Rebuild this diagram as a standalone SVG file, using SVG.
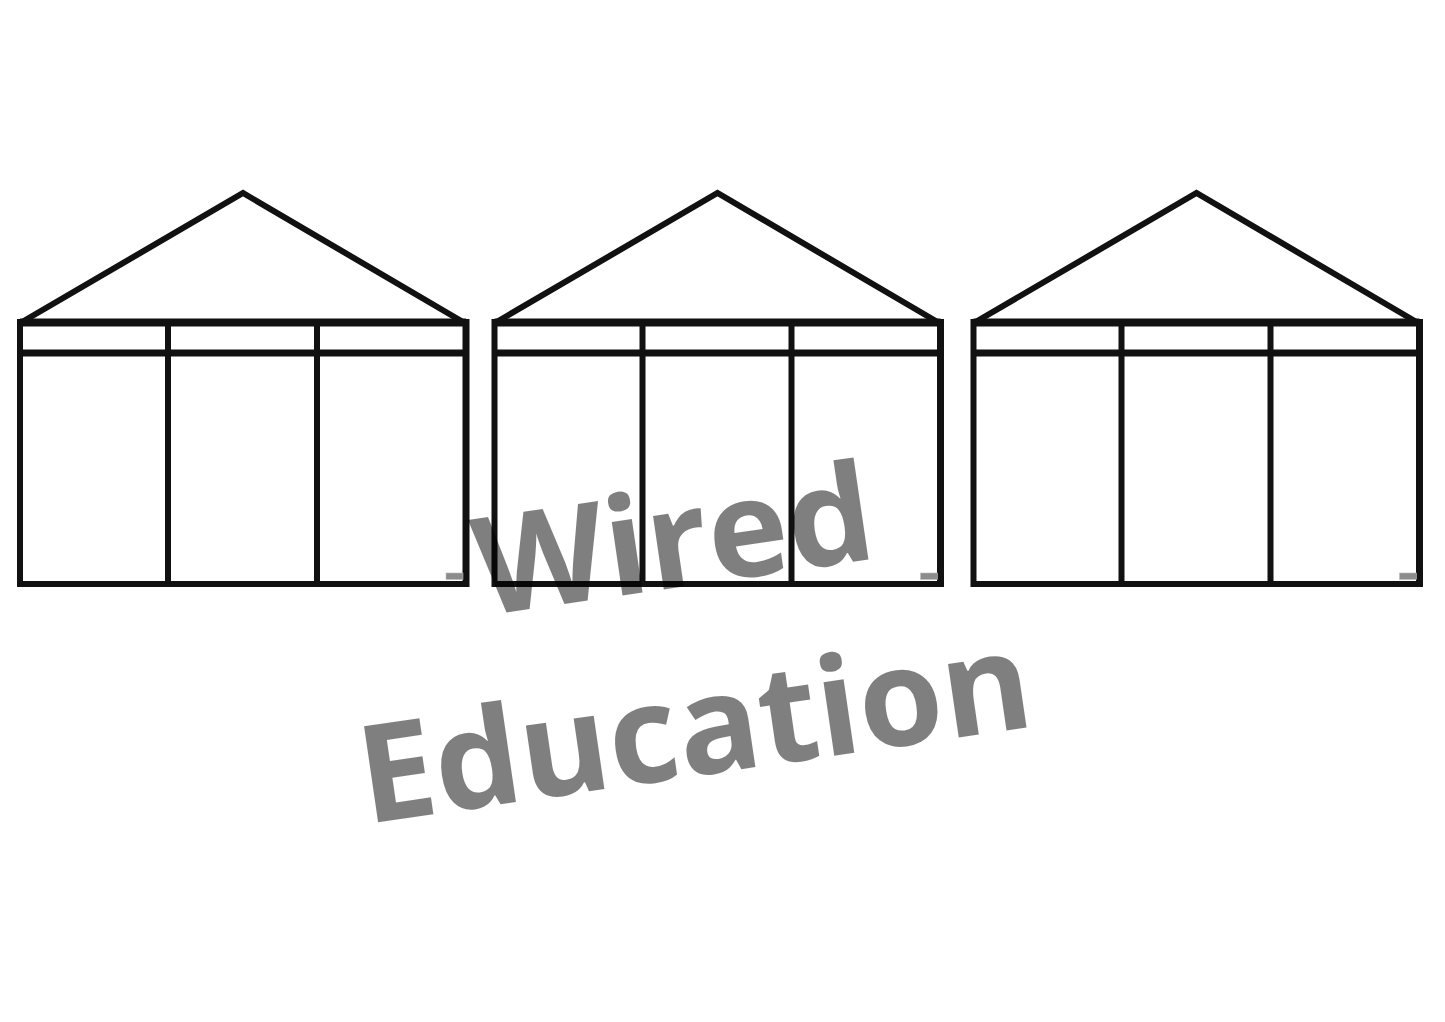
<svg xmlns="http://www.w3.org/2000/svg" xmlns:xlink="http://www.w3.org/1999/xlink" width="1445" height="1022" viewBox="0 0 1445 1022">
<style>
.ln{stroke:#111;fill:none;stroke-linecap:butt;stroke-linejoin:miter}
.roof{stroke-width:6}
.bar{stroke-width:8}
.bar2{stroke-width:7}
.wall{stroke-width:6}
.div{stroke-width:6}
.logo{fill:#8c8c8c;stroke:#bdbdbd;stroke-width:0.6}
.wm{font-family:"Open Sans","Liberation Sans",sans-serif;font-weight:700;font-size:136px;fill:#000;fill-opacity:0.5;letter-spacing:0px}
</style>
<defs>
<g id="house">
<polyline class="ln roof" points="2,322 223,193 443,322"/>
<line class="ln bar" x1="0" y1="322.5" x2="446" y2="322.5"/>
<line class="ln bar2" x1="0" y1="353" x2="446" y2="353"/>
<line class="ln wall" x1="0" y1="584" x2="448" y2="584"/>
<line class="ln wall" x1="0" y1="319" x2="0" y2="587"/>
<line class="ln bar2" x1="446" y1="319" x2="446" y2="587"/>
<line class="ln div" x1="148" y1="322" x2="148" y2="584"/>
<line class="ln div" x1="297" y1="322" x2="297" y2="584"/>
<rect class="logo" x="426" y="573" width="17" height="6.5"/>
</g>
</defs>
<rect width="1445" height="1022" fill="#fff"/>
<g id="house1"><use xlink:href="#house" href="#house" transform="translate(20,0)"/></g>
<g id="house2"><use xlink:href="#house" href="#house" transform="translate(494.5,0)"/></g>
<g id="house3"><use xlink:href="#house" href="#house" transform="translate(973.5,0)"/></g>
<g id="connectors"></g>
<g id="watermark">
<text class="wm" transform="translate(482,616) rotate(-8.3)">Wired</text>
<text class="wm" transform="translate(366,824) rotate(-8.3)">Education</text>
</g>
</svg>
